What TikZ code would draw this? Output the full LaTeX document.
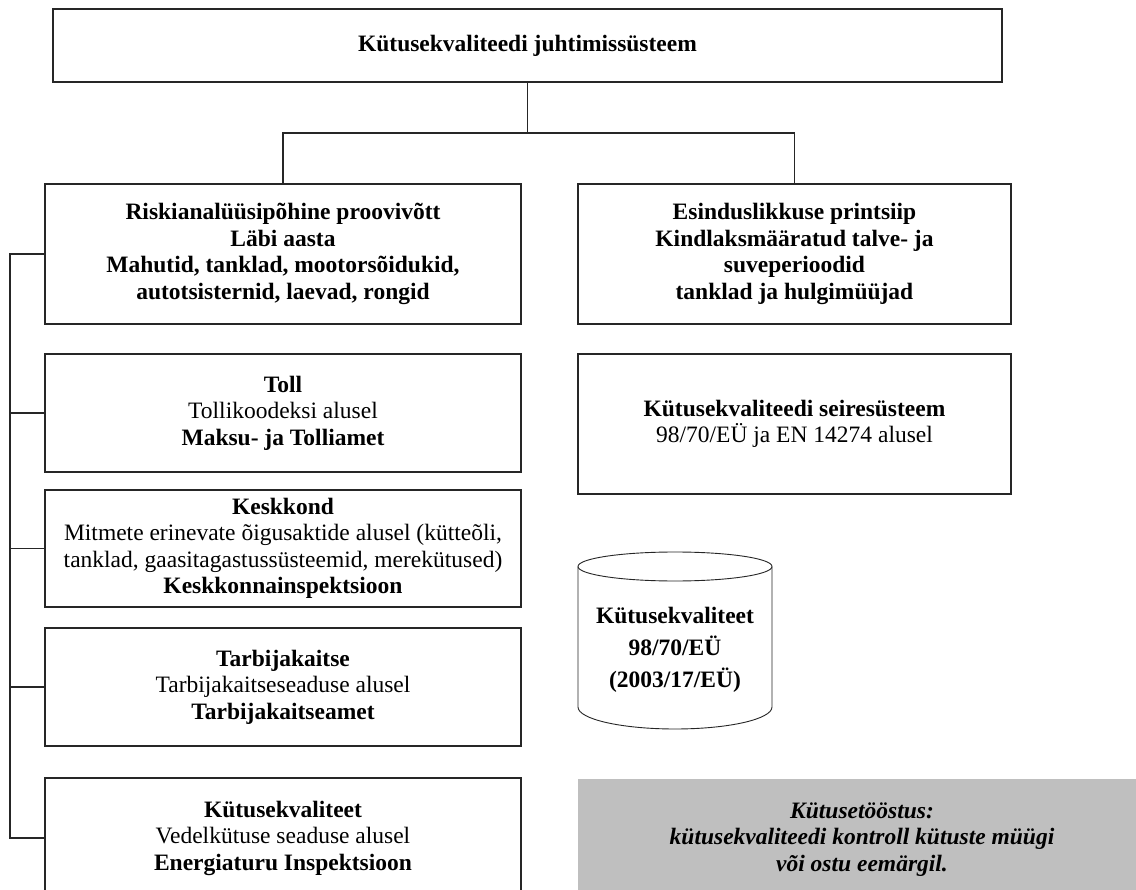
\documentclass[tikz,border=0pt]{standalone}
\usepackage{fontspec}
\setmainfont{Liberation Serif}
\begin{document}
\begin{tikzpicture}[x=1pt,y=1pt,
  every node/.style={font=\fontsize{23.5}{26.5}\selectfont},
  box/.style={draw=black!85, line width=1.1pt, align=center, inner sep=0pt},
  lbox/.style={box, minimum width=476pt},
  rbox/.style={box, minimum width=433pt, minimum height=140pt},
  conn/.style={draw=black!85, line width=1.1pt},
  greybox/.style={fill=black!25, align=center, inner sep=0pt, minimum width=568pt, minimum height=121pt}]
\useasboundingbox (0,0) rectangle (1136,-890);
\clip (0,0) rectangle (1136,-890);
\fill[white] (0,0) rectangle (1136,-890);

\node[box, minimum width=949pt, minimum height=73pt] (top) at (527.5,-45.5) {\bfseries Kütusekvaliteedi juhtimissüsteem};

\node[lbox, minimum height=140pt] (riski) at (283,-254) {\bfseries Riskianalüüsipõhine proovivõtt\\ \bfseries Läbi aasta\\ \bfseries Mahutid, tanklad, mootorsõidukid,\\ \bfseries autotsisternid, laevad, rongid};
\node[rbox] (esind) at (794.5,-254) {\bfseries Esinduslikkuse printsiip\\ \bfseries Kindlaksmääratud talve- ja\\ \bfseries suveperioodid\\ \bfseries tanklad ja hulgimüüjad};

\node[lbox, minimum height=118pt] (toll) at (283,-413) {\bfseries Toll\\ Tollikoodeksi alusel\\ \bfseries Maksu- ja Tolliamet};
\node[lbox, minimum height=117pt] (kesk) at (283,-548.5) {\bfseries Keskkond\\ Mitmete erinevate õigusaktide alusel (kütteõli,\\ tanklad, gaasitagastussüsteemid, merekütused)\\ \bfseries Keskkonnainspektsioon};
\node[lbox, minimum height=118pt] (tarb) at (283,-687) {\bfseries Tarbijakaitse\\ Tarbijakaitseseaduse alusel\\ \bfseries Tarbijakaitseamet};
\node[lbox, minimum height=120pt] (kyt) at (283,-838) {\bfseries Kütusekvaliteet\\ Vedelkütuse seaduse alusel\\ \bfseries Energiaturu Inspektsioon};

\node[rbox] (seire) at (794.5,-424) {\bfseries Kütusekvaliteedi seiresüsteem\\ 98/70/EÜ ja EN 14274 alusel};

% cylinder
\node[align=center, inner sep=0pt, font=\fontsize{23.5}{32}\selectfont\bfseries] (db) at (675,-650) {Kütusekvaliteet\\ 98/70/EÜ\\ (2003/17/EÜ)};
\draw[conn, line width=0.9pt] (578,-566.5) -- (578,-707) arc[start angle=180, end angle=360, x radius=97pt, y radius=22pt] -- (772,-566.5);
\draw[conn, line width=0.9pt] (675,-566.5) ellipse [x radius=97pt, y radius=14.5pt];

\node[greybox] (ind) at (862,-839.5) {\bfseries\itshape Kütusetööstus:\\ \bfseries\itshape kütusekvaliteedi kontroll kütuste müügi\\ \bfseries\itshape või ostu eemärgil.};

% tree connectors
\coordinate (bus) at (527.5,-133);
\coordinate (brk) at (10,0);
\draw[conn] (top.south) -- (bus);
\draw[conn] (riski.north) |- (bus) -| (esind.north);

% left bracket
\draw[conn] (riski.west) -- (riski.west -| brk) -- (kyt.west -| brk) -- (kyt.west);
\draw[conn] (toll.west) -- (toll.west -| brk);
\draw[conn] (kesk.west) -- (kesk.west -| brk);
\draw[conn] (tarb.west) -- (tarb.west -| brk);
\end{tikzpicture}
\end{document}
